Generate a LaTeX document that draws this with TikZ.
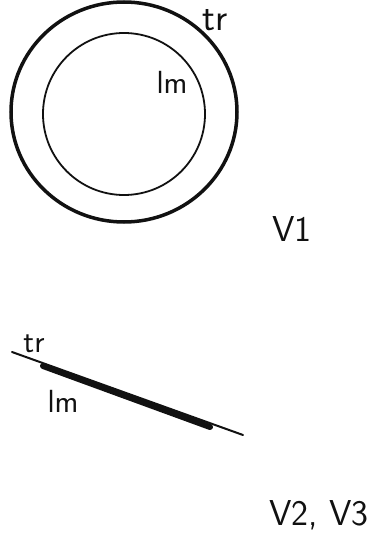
\documentclass[tikz,border=0pt]{standalone}
\usetikzlibrary{positioning}
\definecolor{ink}{HTML}{111111}

\begin{document}
\begin{tikzpicture}[x=1pt, y=-1pt, line cap=round,
  lbl/.style={font=\sffamily\fontsize{32}{36}\selectfont, text=ink, inner sep=0pt},
  vlbl/.style={font=\sffamily\fontsize{36}{40}\selectfont, text=ink, inner sep=0pt}]

% Page frame
\useasboundingbox (0,0) rectangle (370,545);

% View 1: cross-section, two rings
\draw[ink, line width=3.5pt] (124,112) ellipse (113 and 110);
\draw[ink, line width=1.8pt] (124,114) ellipse (81 and 81);

\node[lbl, font=\sffamily\fontsize{38}{40}\selectfont] (tr1) at (215,20) {tr};
\node[lbl] (lm1) at (172,82) {lm};

\node[vlbl] (v1) at (292,229) {V1};

% Views 2 and 3: side-on, a thin line with a thick band
\coordinate (thinA) at (12,352);
\coordinate (thinB) at (243,435);
\coordinate (thickA) at (43,366);
\coordinate (thickB) at (210,427);
\draw[ink, line width=2pt] (thinA) -- (thinB);
\draw[ink, line width=6pt] (thickA) -- (thickB);

\node[lbl] (tr2) at (34,344) {tr};
\node[lbl] (lm2) at (63,401) {lm};

\node[vlbl] (v23) at (319,515) {V2, V3};

\end{tikzpicture}
\end{document}
